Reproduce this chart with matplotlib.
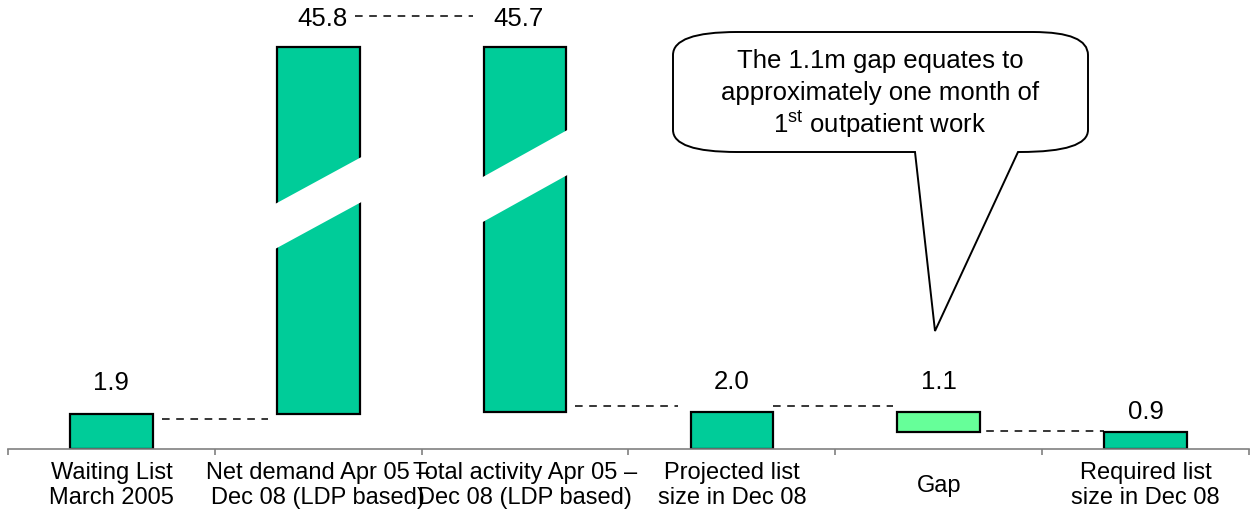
import numpy as np
import matplotlib.pyplot as plt
from matplotlib import transforms
from matplotlib.patches import Polygon, PathPatch
from matplotlib.path import Path

plt.rcParams['font.family'] = ['Liberation Sans', 'DejaVu Sans']
plt.rcParams['mathtext.fontset'] = 'custom'
plt.rcParams['mathtext.rm'] = 'Liberation Sans'

# data (millions)
categories = ["Waiting List\nMarch 2005",
              "Net demand Apr 05 –\nDec 08 (LDP based)",
              "Total activity Apr 05 –\nDec 08 (LDP based)",
              "Projected list\nsize in Dec 08",
              "Gap",
              "Required list\nsize in Dec 08"]
values = [1.9, 45.8, -45.7, 2.0, -1.1, 0.9]
is_total = [True, False, False, True, False, True]
value_labels = ["1.9", "45.8", "45.7", "2.0", "1.1", "0.9"]
callout_lines = ["The 1.1m gap equates to",
                 "approximately one month of",
                 "1$^{\\mathrm{st}}$ outpatient work"]

W, H = 1255, 517
BAR = "#00CC99"
GAP = "#66FF99"

# broken y axis: linear below T, squeezed above
T, K = 5.0, 0.3918


def fwd(v):
    v = np.asarray(v, dtype=float)
    return np.where(v <= T, v, T + (v - T) * K)


def inv(u):
    u = np.asarray(u, dtype=float)
    return np.where(u <= T, u, T + (u - T) / K)


# waterfall geometry
bottoms, heights, levels = [], [], []
running = 0.0
for v, tot in zip(values, is_total):
    if tot:
        bottoms.append(0.0)
        heights.append(v)
        running = v
    else:
        bottoms.append(min(running, running + v))
        heights.append(abs(v))
        running = running + v
    levels.append(running)
tops = [b + h for b, h in zip(bottoms, heights)]
x = np.arange(len(categories))
colors = [GAP if cat == "Gap" else BAR for cat in categories]

fig = plt.figure(figsize=(W / 100, H / 100), dpi=100)
ax = fig.add_axes([8 / W, (H - 449) / H, 1241 / W, 449 / H])
ax.set_yscale('function', functions=(fwd, inv))
ax.set_ylim(0, inv(449 / 18.5))
ax.set_xlim(-0.5, len(categories) - 0.5)

ax.bar(x, heights, bottom=bottoms, width=0.4, color=colors,
       edgecolor="black", linewidth=1.6, zorder=2)

# white diagonal breaks on the two tall bars
blend = transforms.blended_transform_factory(ax.transData, ax.transAxes)
for c, ymid, slope in [(1, 203, 112.5), (2, 176, 115)]:
    xs = [c - 0.23, c + 0.23, c + 0.23, c - 0.23]
    ys = []
    for xx, dy in zip(xs, [-22.5, -22.5, 22.5, 22.5]):
        py = ymid - slope * (xx - c) + dy
        ys.append((449 - py) / 449)
    ax.add_patch(Polygon(list(zip(xs, ys)), closed=True, facecolor="white",
                         edgecolor="none", transform=blend, zorder=3))

# value labels
label_offsets = [(0, 22), (3, 20), (-4.5, 20), (0, 21.5), (0, 21.5), (0, 15)]
for i, lab in enumerate(value_labels):
    ax.annotate(lab, xy=(x[i], tops[i]), xytext=label_offsets[i],
                textcoords="offset points", ha="center", va="center",
                fontsize=18.5, zorder=4)

# dashed connectors
conn_style = [(0.045, 0.045, -3.6), (0.18, 0.25, 22), (0.04, 0.06, 4.3),
              (0.0, 0.02, 4.3), (-0.04, 0.0, 0.7)]
for i in range(len(values) - 1):
    g0, g1, dy = conn_style[i]
    tr = transforms.offset_copy(ax.transData, fig=fig, y=dy, units="points")
    if i == 1:
        x0, x1 = x[i] + g0, x[i + 1] - g1
    else:
        x0, x1 = x[i] + 0.2 + g0, x[i + 1] - 0.2 - g1
    ax.plot([x0, x1], [levels[i], levels[i]], color="black", linewidth=1.1,
            dashes=(5, 4.3), transform=tr, zorder=1)

# axis styling
for side in ["top", "right", "left"]:
    ax.spines[side].set_visible(False)
ax.spines["bottom"].set_color("#808080")
ax.spines["bottom"].set_linewidth(1.2)
ax.set_yticks([])
ax.set_yticks([], minor=True)
ax.set_xticks(np.arange(-0.5, len(categories), 1))
ax.set_xticklabels([])
ax.set_xticks(x, categories, minor=True)
ax.tick_params(axis="x", which="major", direction="out", length=4.3,
               width=1.2, color="#808080")
ax.tick_params(axis="x", which="minor", length=0, pad=26.5, labelsize=17)
for lab in ax.get_xticklabels(minor=True):
    lab.set_va("center")
    lab.set_linespacing(1.17)

# speech bubble callout (figure pixel coordinates)
px = transforms.Affine2D().scale(1 / W, -1 / H).translate(0, 1) + fig.transFigure
verts = [(737, 32), (1033, 32), (1088, 32), (1088, 55), (1088, 130),
         (1088, 152), (1020, 152), (1018, 152), (935, 331), (915, 152),
         (737, 152), (673, 152), (673, 130), (673, 55), (673, 32), (737, 32)]
codes = [Path.MOVETO, Path.LINETO, Path.CURVE3, Path.CURVE3, Path.LINETO,
         Path.CURVE3, Path.CURVE3, Path.LINETO, Path.LINETO, Path.LINETO,
         Path.LINETO, Path.CURVE3, Path.CURVE3, Path.LINETO, Path.CURVE3,
         Path.CURVE3]
fig.add_artist(PathPatch(Path(verts, codes), facecolor="white",
                         edgecolor="black", linewidth=1.4, transform=px))
for line, by in zip(callout_lines, [68, 100, 133]):
    fig.text(880, by, line, transform=px, ha="center", va="baseline",
             fontsize=18.5)

fig.savefig("out.png", dpi=100)
